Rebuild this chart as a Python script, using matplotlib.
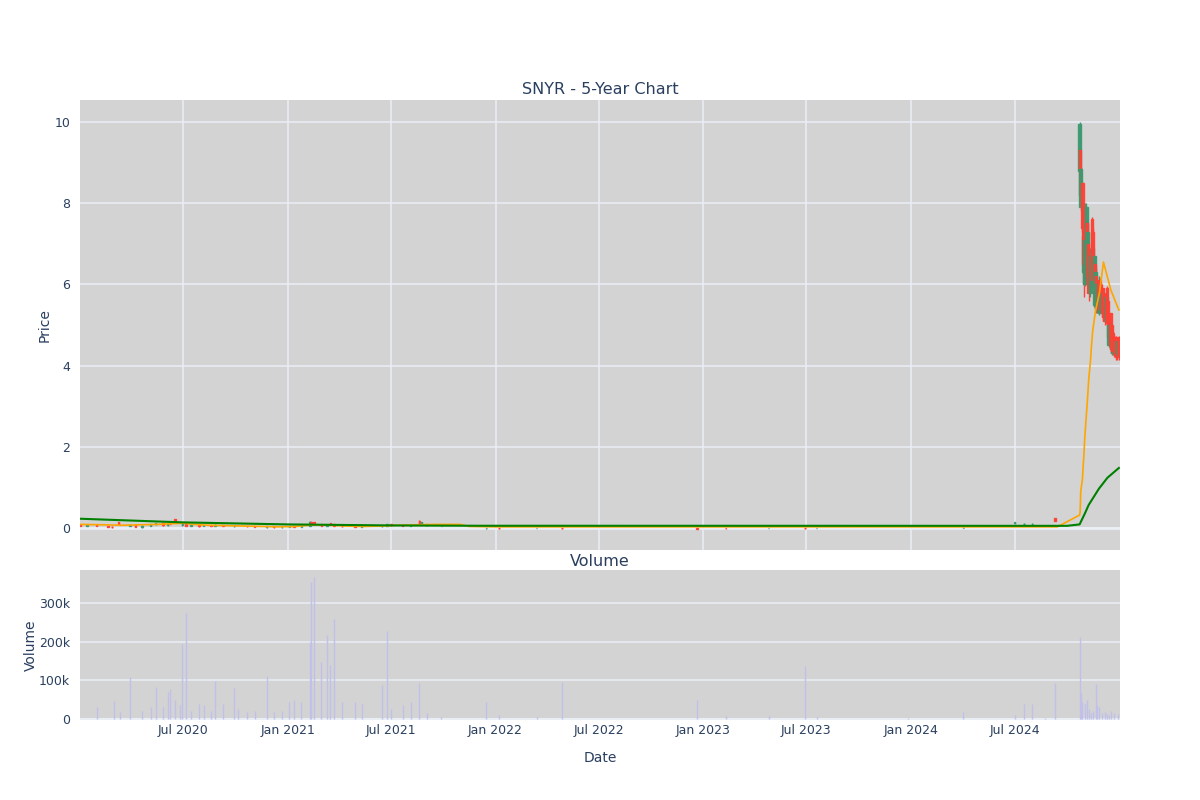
import numpy as np
import pandas as pd
import matplotlib
matplotlib.use("Agg")
import matplotlib.pyplot as plt
import matplotlib.dates as mdates

plt.rcParams['font.family'] = ['DejaVu Sans']

# ---------------- DATA ----------------
# Early OTC period candles (sparse trading)
early_dates = ['2020-01-03', '2020-01-14', '2020-01-31', '2020-02-20', '2020-02-27', '2020-03-10',
               '2020-03-30', '2020-04-08', '2020-04-20', '2020-05-05', '2020-05-14', '2020-05-27',
               '2020-06-04', '2020-06-08', '2020-06-17', '2020-06-30', '2020-07-06', '2020-07-15',
               '2020-07-29', '2020-08-06', '2020-08-19', '2020-08-26', '2020-09-09', '2020-09-29',
               '2020-10-22', '2020-11-04', '2020-11-25', '2020-12-07', '2020-12-21', '2021-01-04',
               '2021-01-12', '2021-01-25', '2021-02-09', '2021-02-11', '2021-02-16', '2021-03-01',
               '2021-03-11', '2021-03-17', '2021-03-23', '2021-04-06', '2021-04-29', '2021-05-11',
               '2021-06-15', '2021-06-24', '2021-07-01', '2021-07-22', '2021-08-05', '2021-08-20',
               '2021-08-24', '2021-09-02', '2021-09-28', '2021-12-16', '2022-01-07', '2022-03-14',
               '2022-04-28', '2022-12-21', '2023-02-09', '2023-04-26', '2023-06-29', '2023-07-19',
               '2024-04-02', '2024-07-01', '2024-07-17', '2024-08-01', '2024-09-10']
early_open = [0.08, 0.06, 0.08, 0.05, 0.03, 0.15, 0.05, 0.08, 0.03, 0.06, 0.09, 0.12,
              0.07, 0.11, 0.22, 0.08, 0.11, 0.06, 0.07, 0.05, 0.07, 0.05, 0.08, 0.05,
              0.06, 0.04, 0.03, 0.04, 0.02, 0.03, 0.04, 0.03, 0.06, 0.15, 0.14, 0.09,
              0.05, 0.13, 0.09, 0.05, 0.04, 0.03, 0.04, 0.06, 0.09, 0.07, 0.05, 0.18,
              0.10, 0.07, 0.05, 0.00, 0.00, 0.00, 0.01, 0.01, 0.00, 0.00, 0.01, 0.00,
              0.01, 0.12, 0.10, 0.10, 0.24]
early_high = [0.10, 0.09, 0.09, 0.06, 0.06, 0.16, 0.09, 0.09, 0.07, 0.10, 0.13, 0.13,
              0.12, 0.14, 0.23, 0.12, 0.12, 0.08, 0.09, 0.08, 0.08, 0.09, 0.08, 0.07,
              0.06, 0.05, 0.05, 0.04, 0.04, 0.05, 0.05, 0.05, 0.17, 0.16, 0.15, 0.10,
              0.09, 0.13, 0.10, 0.06, 0.05, 0.05, 0.07, 0.10, 0.10, 0.08, 0.09, 0.19,
              0.16, 0.10, 0.06, 0.01, 0.01, 0.01, 0.01, 0.01, 0.01, 0.01, 0.01, 0.01,
              0.02, 0.15, 0.12, 0.12, 0.24]
early_low = [0.05, 0.05, 0.05, 0.02, 0.00, 0.07, 0.04, 0.02, 0.01, 0.05, 0.07, 0.06,
             0.06, 0.09, 0.14, 0.06, 0.05, 0.04, 0.03, 0.04, 0.04, 0.04, 0.04, 0.03,
             0.03, 0.02, 0.01, 0.01, 0.01, 0.02, 0.02, 0.02, 0.05, 0.09, 0.08, 0.04,
             0.04, 0.08, 0.04, 0.03, 0.02, 0.02, 0.03, 0.05, 0.06, 0.04, 0.04, 0.10,
             0.09, 0.06, 0.04, -0.02, -0.02, -0.01, -0.02, -0.02, -0.02, -0.01, -0.02, -0.01,
             -0.01, 0.10, 0.08, 0.08, 0.17]
early_close = [0.06, 0.08, 0.05, 0.03, 0.02, 0.09, 0.08, 0.03, 0.06, 0.09, 0.12, 0.07,
               0.11, 0.10, 0.15, 0.11, 0.06, 0.07, 0.04, 0.07, 0.05, 0.08, 0.05, 0.06,
               0.04, 0.03, 0.04, 0.02, 0.03, 0.04, 0.03, 0.04, 0.15, 0.10, 0.09, 0.05,
               0.08, 0.09, 0.05, 0.04, 0.03, 0.04, 0.06, 0.09, 0.07, 0.05, 0.08, 0.11,
               0.15, 0.09, 0.05, 0.00, -0.01, 0.00, 0.00, -0.02, -0.01, 0.00, 0.00, 0.00,
               0.01, 0.14, 0.11, 0.11, 0.17]

# Post-listing daily candles
ipo_dates = ['2024-10-23', '2024-10-24', '2024-10-25', '2024-10-28', '2024-10-29', '2024-10-30',
             '2024-10-31', '2024-11-01', '2024-11-04', '2024-11-05', '2024-11-06', '2024-11-07',
             '2024-11-08', '2024-11-11', '2024-11-12', '2024-11-13', '2024-11-14', '2024-11-15',
             '2024-11-18', '2024-11-19', '2024-11-20', '2024-11-21', '2024-11-22', '2024-11-25',
             '2024-11-26', '2024-11-27', '2024-11-29', '2024-12-02', '2024-12-03', '2024-12-04',
             '2024-12-05', '2024-12-06', '2024-12-09', '2024-12-10', '2024-12-11', '2024-12-12',
             '2024-12-13', '2024-12-16', '2024-12-17', '2024-12-18', '2024-12-19', '2024-12-20',
             '2024-12-23', '2024-12-24', '2024-12-26', '2024-12-27', '2024-12-30', '2024-12-31']
ipo_open = [8.80, 9.30, 7.90, 8.50, 6.30, 7.40, 7.40, 6.00, 6.90, 7.50, 6.00, 7.00,
            6.70, 5.80, 6.70, 6.00, 7.60, 7.30, 5.50, 6.50, 5.50, 6.20, 5.40, 6.00,
            5.30, 6.10, 5.40, 5.90, 5.30, 5.80, 5.20, 5.70, 5.10, 5.90, 5.60, 5.30,
            4.50, 5.30, 4.40, 5.00, 4.30, 4.80, 4.70, 4.30, 4.70, 4.65, 4.25, 4.70]
ipo_high = [10.00, 9.35, 8.90, 8.55, 8.00, 7.45, 7.45, 8.00, 8.00, 7.60, 7.50, 7.10,
            6.80, 6.90, 6.75, 6.90, 7.65, 7.40, 6.90, 6.60, 6.40, 6.25, 6.10, 6.10,
            6.20, 6.15, 5.90, 6.00, 5.90, 5.85, 5.80, 5.75, 5.80, 5.95, 5.65, 5.35,
            5.10, 5.30, 5.10, 5.05, 4.90, 4.85, 4.75, 4.70, 4.72, 4.70, 4.70, 4.72]
ipo_low = [8.70, 8.10, 7.80, 7.30, 6.25, 6.30, 5.70, 5.95, 6.80, 6.00, 5.90, 6.00,
           5.60, 5.70, 5.90, 5.90, 6.50, 6.00, 5.45, 5.50, 5.40, 5.30, 5.30, 5.30,
           5.25, 5.30, 5.30, 5.20, 5.20, 5.10, 5.10, 5.00, 5.05, 5.00, 5.00, 4.60,
           4.45, 4.40, 4.30, 4.30, 4.25, 4.25, 4.20, 4.25, 4.15, 4.15, 4.20, 4.15]
ipo_close = [9.95, 8.20, 8.85, 7.40, 7.20, 6.50, 6.00, 7.10, 7.90, 6.20, 7.30, 6.20,
             5.80, 6.70, 6.00, 6.80, 6.60, 6.10, 6.70, 5.60, 6.30, 5.40, 6.00, 5.40,
             6.10, 5.40, 5.80, 5.30, 5.80, 5.20, 5.70, 5.10, 5.70, 5.10, 5.05, 4.70,
             5.00, 4.50, 5.00, 4.40, 4.80, 4.35, 4.30, 4.60, 4.20, 4.25, 4.60, 4.20]

# Moving averages
ma_short_dates = ['2020-01-02', '2020-02-15', '2020-03-15', '2020-04-15', '2020-05-15', '2020-06-15',
                  '2020-07-01', '2020-07-20', '2020-08-15', '2020-09-15', '2020-10-15', '2020-11-15',
                  '2020-12-15', '2021-01-15', '2021-02-15', '2021-03-15', '2021-04-15', '2021-05-15',
                  '2021-06-15', '2021-07-15', '2021-08-15', '2021-09-15', '2021-10-31', '2021-11-15',
                  '2021-12-31', '2024-09-14', '2024-10-23', '2024-10-24', '2024-10-25', '2024-10-28',
                  '2024-10-29', '2024-10-31', '2024-11-01', '2024-11-04', '2024-11-06', '2024-11-08',
                  '2024-11-11', '2024-11-13', '2024-11-15', '2024-11-20', '2024-11-27', '2024-12-04',
                  '2024-12-09', '2024-12-17', '2024-12-26', '2024-12-31']
ma_short = [0.09, 0.08, 0.07, 0.08, 0.09, 0.11, 0.12, 0.09, 0.07, 0.06, 0.05, 0.04,
            0.03, 0.04, 0.08, 0.07, 0.05, 0.04, 0.05, 0.07, 0.08, 0.09, 0.09, 0.04,
            0.03, 0.03, 0.32, 0.40, 0.90, 1.20, 1.45, 1.90, 2.20, 2.80, 3.20, 3.65,
            4.10, 4.50, 4.85, 5.35, 5.80, 6.55, 6.28, 5.86, 5.54, 5.37]

ma_long_dates = ['2020-01-02', '2020-07-01', '2021-01-01', '2021-07-01', '2021-12-01', '2024-10-01',
                 '2024-10-23', '2024-11-01', '2024-11-08', '2024-11-26', '2024-12-11', '2024-12-31']
ma_long = [0.23, 0.14, 0.09, 0.065, 0.057, 0.055, 0.09, 0.35, 0.57, 0.97, 1.24, 1.48]

# Volume
vol_dates = ['2020-01-31', '2020-03-02', '2020-03-12', '2020-03-30', '2020-04-20', '2020-05-05',
             '2020-05-14', '2020-05-27', '2020-06-04', '2020-06-08', '2020-06-17', '2020-06-26',
             '2020-06-30', '2020-07-06', '2020-07-15', '2020-07-29', '2020-08-06', '2020-08-19',
             '2020-08-26', '2020-09-09', '2020-09-29', '2020-10-05', '2020-10-22', '2020-11-04',
             '2020-11-25', '2020-12-07', '2020-12-21', '2021-01-04', '2021-01-12', '2021-01-25',
             '2021-02-09', '2021-02-11', '2021-02-16', '2021-03-01', '2021-03-11', '2021-03-17',
             '2021-03-23', '2021-04-06', '2021-04-29', '2021-05-11', '2021-06-15', '2021-06-24',
             '2021-07-01', '2021-07-22', '2021-08-05', '2021-08-20', '2021-09-02', '2021-09-28',
             '2021-12-16', '2022-01-07', '2022-03-14', '2022-04-28', '2022-12-21', '2023-02-09',
             '2023-04-26', '2023-06-29', '2023-07-19', '2023-12-26', '2024-04-02', '2024-07-01',
             '2024-07-17', '2024-08-01', '2024-08-23', '2024-09-10',
             '2024-10-23', '2024-10-25', '2024-10-28', '2024-11-01', '2024-11-05', '2024-11-08',
             '2024-11-12', '2024-11-15', '2024-11-20', '2024-11-22', '2024-11-26', '2024-12-02',
             '2024-12-06', '2024-12-11', '2024-12-13', '2024-12-18', '2024-12-23', '2024-12-30']
vol_values = [32, 47, 18, 108, 20, 32, 82, 30, 71, 77, 50, 37, 194, 273, 20, 40, 37, 20,
              98, 40, 79, 25, 18, 20, 112, 18, 20, 45, 48, 45, 200, 355, 368, 146, 217, 140,
              258, 44, 44, 40, 88, 228, 25, 35, 44, 94, 15, 5, 45, 10, 5, 95, 49, 8,
              8, 137, 4, 3, 19, 10, 38, 38, 2, 92,
              213, 67, 45, 40, 48, 25, 15, 20, 90, 35, 32, 15, 18, 14, 10, 20, 15, 12]

tick_dates = ['2020-07-01', '2021-01-01', '2021-07-01', '2022-01-01', '2022-07-01',
              '2023-01-01', '2023-07-01', '2024-01-01', '2024-07-01']
x_start, x_end = '2020-01-02', '2025-01-02'

# ---------------- STYLE ----------------
TEXT = '#2a3f5f'
BG = '#d3d3d3'
GRID = '#eaeef5'
UP = '#3D9970'
DOWN = '#FF4136'

def dn(lst):
    return mdates.date2num(pd.to_datetime(lst))

fig = plt.figure(figsize=(12, 8), dpi=100)
ax1 = fig.add_axes([80/1200, 250/800, 1040/1200, 450/800])
ax2 = fig.add_axes([80/1200, 80/800, 1040/1200, 150/800])

for ax in (ax1, ax2):
    ax.set_facecolor(BG)
    for s in ax.spines.values():
        s.set_visible(False)
    ax.tick_params(length=0, colors=TEXT, labelsize=9)
    ax.set_axisbelow(True)
    ax.set_xlim(dn([x_start])[0], dn([x_end])[0])

# grids
ax1.grid(True, axis='both', color=GRID, linewidth=1.1)
ax2.grid(True, axis='y', color=GRID, linewidth=1.1)
ax1.axhline(0, color=GRID, linewidth=2, zorder=0.5)
ax2.axhline(0, color=GRID, linewidth=2, zorder=0.5)

# candles
def draw_candles(ax, dates, o, h, l, c, width):
    x = dn(dates)
    o = np.array(o); h = np.array(h); l = np.array(l); c = np.array(c)
    cols = [UP if ci >= oi else DOWN for oi, ci in zip(o, c)]
    ax.vlines(x, l, h, colors=cols, linewidth=1.0, zorder=3)
    ax.bar(x, c - o, bottom=o, width=width, color=cols, edgecolor=cols,
           linewidth=1.0, zorder=3, alpha=0.95)

draw_candles(ax1, early_dates, early_open, early_high, early_low, early_close, 2.5)
draw_candles(ax1, ipo_dates, ipo_open, ipo_high, ipo_low, ipo_close, 4.5)

# moving averages
ax1.plot(dn(ma_short_dates), ma_short, color='orange', linewidth=1.2, zorder=4)
ax1.plot(dn(ma_long_dates), ma_long, color='green', linewidth=1.5, zorder=4)

ax1.set_ylim(-0.54, 10.54)
ax1.set_yticks([0, 2, 4, 6, 8, 10])
ax1.set_xticks(dn(tick_dates))
ax1.tick_params(axis='x', labelbottom=False)
ax1.tick_params(axis='y', pad=7)
ax1.set_ylabel('Price', color=TEXT, fontsize=10, labelpad=2)
ax1.set_title('SNYR - 5-Year Chart', color=TEXT, fontsize=11.5, pad=4)

# volume
ax2.vlines(dn(vol_dates), 0, np.array(vol_values) * 1000, colors='#c0c0e8', linewidth=1.0, zorder=3)
ax2.set_ylim(-2600, 385000)
ax2.set_yticks([0, 100000, 200000, 300000])
ax2.set_yticklabels(['0', '100k', '200k', '300k'])
ax2.set_xticks(dn(tick_dates))
ax2.xaxis.set_major_formatter(mdates.DateFormatter('%b %Y'))
ax2.tick_params(axis='x', pad=3)
ax2.tick_params(axis='y', pad=7)
ax2.set_ylabel('Volume', color=TEXT, fontsize=10, labelpad=1)
ax2.set_xlabel('Date', color=TEXT, fontsize=10, labelpad=10)
ax2.set_title('Volume', color=TEXT, fontsize=11.5, pad=3)

fig.savefig('out.png', dpi=100, facecolor='white')
